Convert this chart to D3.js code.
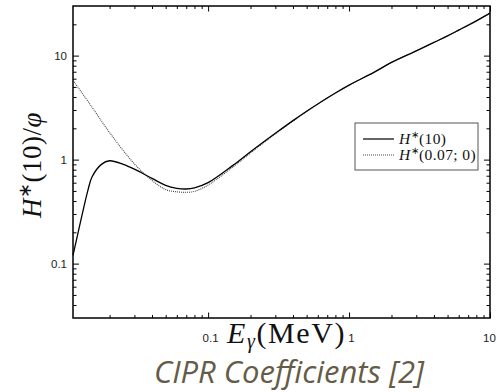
<!DOCTYPE html>
<html><head><meta charset="utf-8">
<script src="https://cdn.jsdelivr.net/npm/d3@7/dist/d3.min.js"></script>
<style>
html,body{margin:0;padding:0;background:#fff;}
svg{display:block;}
.tk text{font-family:"Liberation Sans",Arial,sans-serif;font-size:11.5px;fill:#222;}
</style></head>
<body>
<svg id="c" width="497" height="392"></svg>
<script>
// ---- data ----
const energyH10 = [0.011,0.0125,0.014,0.015,0.0175,0.02,0.025,0.03,0.04,0.05,0.06,0.07,0.08,0.1,0.15,0.2,0.3,0.4,0.5,0.6,0.8,1,1.5,2,3,4,5,6,8,10];
const valuesH10 = [0.12,0.26,0.50,0.68,0.90,0.975,0.90,0.81,0.66,0.565,0.53,0.522,0.535,0.60,0.88,1.19,1.79,2.37,2.92,3.43,4.37,5.2,6.9,8.6,11.1,13.4,15.5,17.6,21.6,25.6];
const energyH007 = [0.011,0.015,0.02,0.03,0.04,0.05,0.06,0.07,0.08,0.1,0.15,0.2,0.3,0.4,0.5,0.6,0.8,1,1.5,2,3,4,5,6,8,10];
const valuesH007 = [5.8,3.2,1.82,0.91,0.63,0.515,0.49,0.485,0.495,0.57,0.85,1.16,1.77,2.35,2.9,3.42,4.36,5.2,6.9,8.6,11.1,13.4,15.5,17.6,21.6,25.6];
const xMajorTicks = [0.1,1,10];
const xMinorTicks = [0.02,0.03,0.04,0.05,0.06,0.07,0.08,0.09,0.2,0.3,0.4,0.5,0.6,0.7,0.8,0.9,2,3,4,5,6,7,8,9];
const yMajorTicks = [0.1,1,10];
const yMinorTicks = [0.04,0.05,0.06,0.07,0.08,0.09,0.2,0.3,0.4,0.5,0.6,0.7,0.8,0.9,2,3,4,5,6,7,8,9,20];
const xTickLabels = ["0.1","1","10"];
const yTickLabels = ["0.1","1","10"];
const legendLabels = [["H","∗","(10)"],["H","∗","(0.07; 0)"]];
const titleText = "CIPR Coefficients [2]";

// ---- layout ----
const L=73, R=490, T=6, B=318;
const svg = d3.select("#c");
const x = d3.scaleLog().domain([0.011,10]).range([L,R]);
const y = d3.scaleLog().domain([0.03,30]).range([B,T]);

function styleAxis(g){
  g.select(".domain").remove();
  g.selectAll(".tick line").attr("stroke","#000").attr("stroke-width",1);
  g.attr("class","tk");
}
// bottom
svg.append("g").attr("transform",`translate(0,${B})`)
  .call(d3.axisBottom(x).tickValues(xMajorTicks).tickSize(-5.5).tickPadding(0).tickFormat((d,i)=>xTickLabels[i]))
  .call(styleAxis)
  .call(g=>g.selectAll("text").attr("y",16).attr("dx",(d,i)=>i===2?-1:2));
svg.append("g").attr("transform",`translate(0,${B})`)
  .call(d3.axisBottom(x).tickValues(xMinorTicks).tickSize(-3).tickFormat(""))
  .call(styleAxis);
// top
svg.append("g").attr("transform",`translate(0,${T})`)
  .call(d3.axisTop(x).tickValues(xMajorTicks).tickSize(-5.5).tickFormat(""))
  .call(styleAxis);
svg.append("g").attr("transform",`translate(0,${T})`)
  .call(d3.axisTop(x).tickValues(xMinorTicks).tickSize(-3).tickFormat(""))
  .call(styleAxis);
// left
svg.append("g").attr("transform",`translate(${L},0)`)
  .call(d3.axisLeft(y).tickValues(yMajorTicks).tickSize(-6).tickPadding(0).tickFormat((d,i)=>yTickLabels[i]))
  .call(styleAxis)
  .call(g=>g.selectAll("text").attr("x",-6).attr("text-anchor","end"));
svg.append("g").attr("transform",`translate(${L},0)`)
  .call(d3.axisLeft(y).tickValues(yMinorTicks).tickSize(-3.5).tickFormat(""))
  .call(styleAxis);
// right
svg.append("g").attr("transform",`translate(${R},0)`)
  .call(d3.axisRight(y).tickValues(yMajorTicks).tickSize(-6).tickFormat(""))
  .call(styleAxis);
svg.append("g").attr("transform",`translate(${R},0)`)
  .call(d3.axisRight(y).tickValues(yMinorTicks).tickSize(-3.5).tickFormat(""))
  .call(styleAxis);

// frame
svg.append("rect").attr("x",L).attr("y",T).attr("width",R-L).attr("height",B-T)
  .attr("fill","none").attr("stroke","#000").attr("stroke-width",1.5);

// curves
const line = d3.line().x(d=>x(d[0])).y(d=>y(d[1])).curve(d3.curveCatmullRom.alpha(0.5));
svg.append("path").datum(energyH007.map((e,i)=>[e,valuesH007[i]]))
  .attr("d",line).attr("fill","none").attr("stroke","#444").attr("stroke-width",1.1)
  .attr("stroke-dasharray","1,1");
svg.append("path").datum(energyH10.map((e,i)=>[e,valuesH10[i]]))
  .attr("d",line).attr("fill","none").attr("stroke","#000").attr("stroke-width",1.3);

// legend
const lg = svg.append("g");
lg.append("rect").attr("x",355).attr("y",123).attr("width",123).attr("height",47)
  .attr("fill","#fff").attr("stroke","#555").attr("stroke-width",1);
const rows=[139,155];
lg.append("line").attr("x1",363).attr("x2",394).attr("y1",rows[0]).attr("y2",rows[0]).attr("stroke","#000").attr("stroke-width",1.2);
lg.append("line").attr("x1",363).attr("x2",394).attr("y1",rows[1]).attr("y2",rows[1]).attr("stroke","#444").attr("stroke-width",1.1).attr("stroke-dasharray","1,1");
legendLabels.forEach((lab,i)=>{
  const t = lg.append("text").attr("x",399).attr("y",rows[i]+5)
    .attr("font-family","'Liberation Serif','Times New Roman',serif").attr("font-size",15.5)
    .attr("letter-spacing",0.4).attr("fill","#111");
  t.append("tspan").attr("font-style","italic").text(lab[0]);
  t.append("tspan").attr("font-size",10).attr("dy",-6).text(lab[1]);
  t.append("tspan").attr("dy",6).text(lab[2]);
});

// x title
const xt = svg.append("text").attr("x",227).attr("y",343)
  .attr("font-family","'Liberation Serif','Times New Roman',serif").attr("font-size",30)
  .attr("letter-spacing",1.6).attr("fill","#111");
xt.append("tspan").attr("font-style","italic").text("E");
xt.append("tspan").attr("font-style","italic").attr("font-size",20).attr("dy",5).text("γ");
xt.append("tspan").attr("dy",-5).text("(MeV)");

// y title
const yt = svg.append("text").attr("transform","translate(41,165) rotate(-90)").attr("text-anchor","middle")
  .attr("font-family","'Liberation Serif','Times New Roman',serif").attr("font-size",27)
  .attr("letter-spacing",0.5).attr("fill","#111");
yt.append("tspan").attr("font-style","italic").text("H");
yt.append("tspan").attr("font-size",18).attr("dy",-10).text("∗");
yt.append("tspan").attr("dy",10).text("(10)/");
yt.append("tspan").attr("font-style","italic").text("φ");

// title
svg.append("text").attr("x",289).attr("y",383).attr("text-anchor","middle")
  .attr("font-family","'Open Sans',sans-serif").attr("font-style","italic").attr("font-size",31)
  .attr("fill","#655c47").text(titleText);
</script>
</body></html>
